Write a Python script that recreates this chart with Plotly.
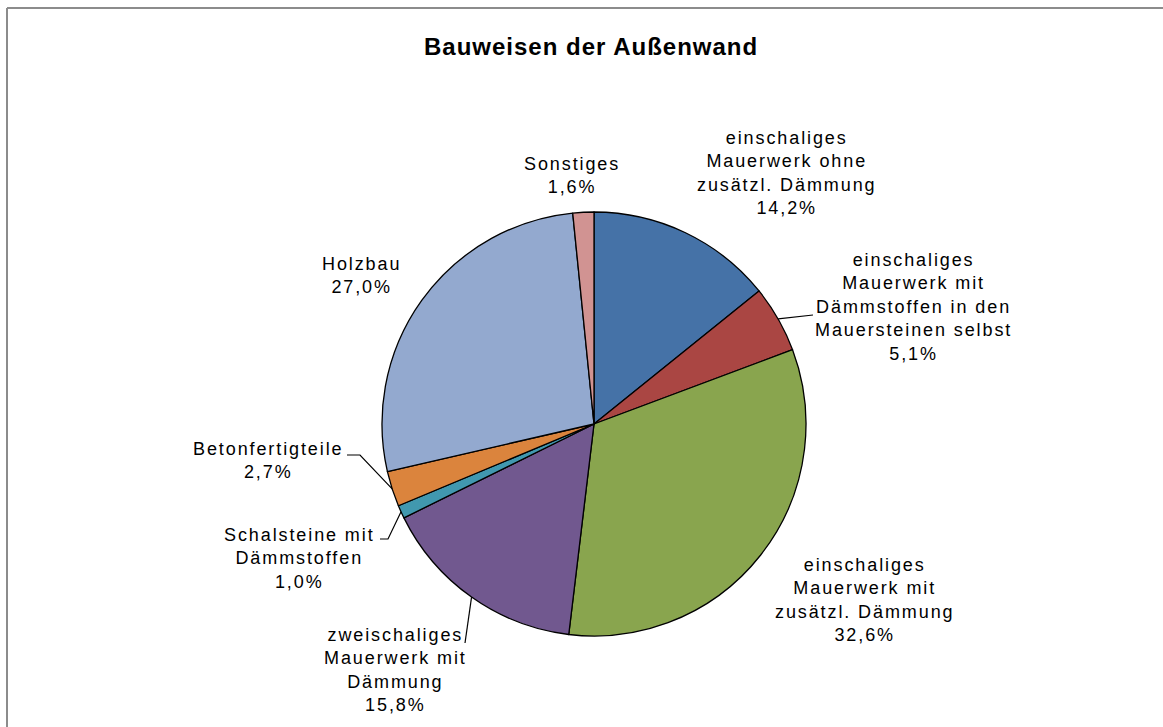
import math
import plotly.graph_objects as go

W, H = 1163, 727

title = "Bauweisen der Außenwand"
labels = [
    "einschaliges<br>Mauerwerk ohne<br>zusätzl. Dämmung",
    "einschaliges<br>Mauerwerk mit<br>Dämmstoffen in den<br>Mauersteinen selbst",
    "einschaliges<br>Mauerwerk mit<br>zusätzl. Dämmung",
    "zweischaliges<br>Mauerwerk mit<br>Dämmung",
    "Schalsteine mit<br>Dämmstoffen",
    "Betonfertigteile",
    "Holzbau",
    "Sonstiges",
]
values = [14.2, 5.1, 32.6, 15.8, 1.0, 2.7, 27.0, 1.6]
value_text = ["14,2%", "5,1%", "32,6%", "15,8%", "1,0%", "2,7%", "27,0%", "1,6%"]
colors = ["#4572A7", "#AA4643", "#89A54E", "#71588F", "#4198AF", "#DB843D", "#93A9CF", "#D19392"]

# label block centres (pixels) and leader-line elbow points (None = no leader)
label_pos = [(786, 173), (913, 307), (864, 600), (395, 670), (299, 558), (268, 461), (361, 275), (572, 175)]
leader_end = [None, [(813, 315)], None, [(465, 643)], [(388, 539), (380, 539)], [(360, 455), (347, 455)], None, None]

cx, cy, R = 594, 424, 212

def px(x):
    return x / W

def py(y):
    return 1 - y / H

fig = go.Figure()
fig.add_trace(go.Pie(
    labels=[l.replace("<br>", " ") for l in labels],
    values=values,
    sort=False,
    direction="clockwise",
    rotation=0,
    marker=dict(colors=colors, line=dict(color="#000000", width=1.3)),
    textinfo="none",
    hoverinfo="label+percent",
    showlegend=False,
    domain=dict(x=[px(cx - R), px(cx + R)], y=[py(cy + R), py(cy - R)]),
))

LS = "letter-spacing:1.9px"
annotations = []
shapes = []
total = sum(values)
cum = 0.0
for i, v in enumerate(values):
    mid = (cum + v / 2) / total * 2 * math.pi
    cum += v
    lx, ly = label_pos[i]
    annotations.append(dict(
        x=px(lx), y=py(ly), xref="paper", yref="paper",
        text=f'<span style="{LS}">{labels[i]}<br>{value_text[i]}</span>',
        showarrow=False, xanchor="center", yanchor="middle", align="center",
        font=dict(family="Liberation Sans, Arial, sans-serif", size=18, color="#000000"),
    ))
    if leader_end[i]:
        sx = cx + R * math.sin(mid)
        sy = cy - R * math.cos(mid)
        pts = [(sx, sy)] + leader_end[i]
        path = "M " + " L ".join(f"{px(x)},{py(y)}" for x, y in pts)
        shapes.append(dict(type="path", path=path, xref="paper", yref="paper",
                           line=dict(color="#000000", width=1.2)))

annotations.append(dict(
    x=px(591), y=py(46), xref="paper", yref="paper",
    text=f'<span style="letter-spacing:1px"><b>{title}</b></span>',
    showarrow=False, xanchor="center", yanchor="middle",
    font=dict(family="Liberation Sans, Arial, sans-serif", size=24, color="#000000"),
))

# chart border (left and top visible, rest outside the view)
shapes.append(dict(type="line", xref="paper", yref="paper", x0=px(7), x1=1.05, y0=py(8), y1=py(8),
                   line=dict(color="#8C8C8C", width=2)))
shapes.append(dict(type="line", xref="paper", yref="paper", x0=px(7), x1=px(7), y0=py(8), y1=-0.05,
                   line=dict(color="#8C8C8C", width=2)))

fig.update_layout(
    width=W, height=H,
    margin=dict(l=0, r=0, t=0, b=0),
    paper_bgcolor="#FFFFFF",
    plot_bgcolor="#FFFFFF",
    annotations=annotations,
    shapes=shapes,
)

fig.write_html(
    "out.html",
    config={"displayModeBar": False},
    post_script="document.body.style.margin='0';document.body.style.overflow='hidden';",
)
